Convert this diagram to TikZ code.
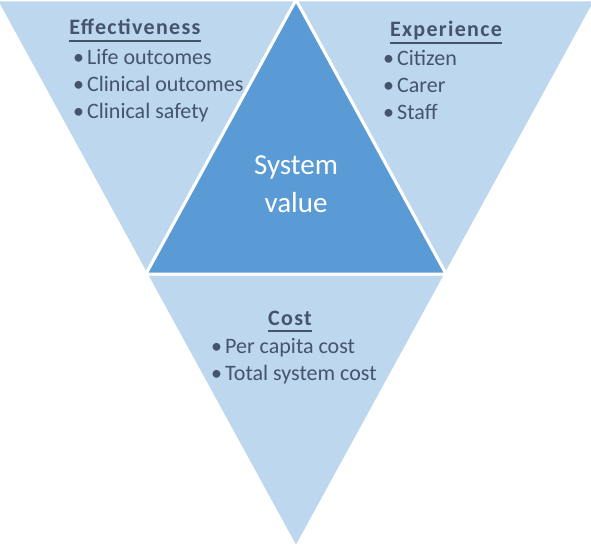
\documentclass[tikz,border=0pt]{standalone}
\usepackage{fontspec}
\setmainfont{Carlito}
\usepackage{tikz}
\definecolor{light}{HTML}{BDD7EE}
\definecolor{dark}{HTML}{5B9BD5}
\definecolor{slate}{HTML}{44546A}
\newcommand{\bul}{\makebox[15pt][l]{\hspace{1pt}•}}

\begin{document}
\begin{tikzpicture}[x=1pt, y=-1pt,
    tri/.style = {fill=light, draw=white, line width=3pt},
    head/.style = {font=\bfseries\fontsize{22}{26}\selectfont\addfontfeature{LetterSpace=6}, text=slate, inner sep=0pt, anchor=base},
    item/.style = {font=\fontsize{22}{26}\selectfont, text=slate, inner sep=0pt, anchor=base west},
    sys/.style = {font=\fontsize{29}{34}\selectfont, text=white, inner sep=0pt, anchor=base},
    uline/.style = {draw=slate, line width=1.5pt}]
    \clip (0,0) rectangle (591,548);
    \fill[white] (0,0) rectangle (591,548);
    \draw[tri] (-4,0) -- (296,0) -- (146,274) -- cycle;
    \draw[tri] (296,0) -- (596,0) -- (446,274) -- cycle;
    \draw[tri] (146,274) -- (446,274) -- (296,548) -- cycle;
    \draw[tri, fill=dark] (296,0) -- (446,274) -- (146,274) -- cycle;
    \node[head] (1) at (135,35) {Effectiveness};
    \node[item] (2) at (72,65) {\bul Life outcomes};
    \node[item] (3) at ([yshift=-27pt]2.base west) {\bul Clinical outcomes};
    \node[item] (4) at ([yshift=-27pt]3.base west) {\bul Clinical safety};
    \node[head] (5) at (446,37) {Experience};
    \node[item] (6) at (382,66) {\bul Citizen};
    \node[item] (7) at ([yshift=-27pt]6.base west) {\bul Carer};
    \node[item] (8) at ([yshift=-27pt]7.base west) {\bul Staff};
    \node[head] (9) at (290,325) {Cost};
    \node[item] (10) at (210,353) {\bul Per capita cost};
    \node[item] (11) at ([yshift=-27pt]10.base west) {\bul Total system cost};
    \node[sys] (12) at (296,175) {System};
    \node[sys] (13) at ([yshift=-37pt]12.base) {value};
    \draw[uline] ([yshift=-6pt]1.base west) -- ([yshift=-6pt]1.base east);
    \draw[uline] ([yshift=-6pt]5.base west) -- ([yshift=-6pt]5.base east);
    \draw[uline] ([yshift=-6pt]9.base west) -- ([yshift=-6pt]9.base east);
\end{tikzpicture}
\end{document}
